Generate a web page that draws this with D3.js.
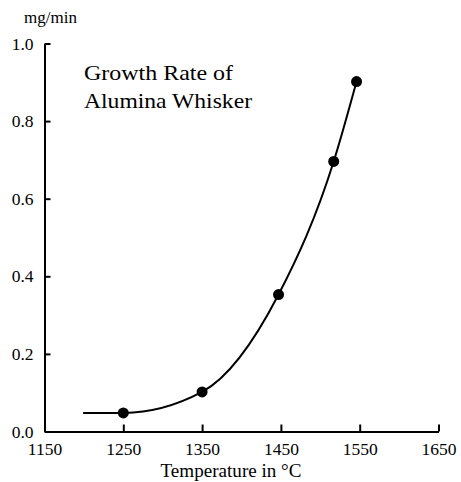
<!DOCTYPE html>
<html>
<head>
<meta charset="utf-8">
<script src="https://cdn.jsdelivr.net/npm/d3@7"></script>
<style>
  html, body { margin: 0; padding: 0; background: #fff; }
</style>
</head>
<body>
<div id="chart"></div>
<script>
// measured points (temperature in °C, growth rate in mg/min)
const temps = [1250, 1350, 1447, 1517, 1546];
const rates = [0.048, 0.102, 0.353, 0.696, 0.902];
// the drawn curve
const curveTemps = [1199, 1250, 1350, 1447, 1517, 1546];
const curveRates = [0.048, 0.048, 0.102, 0.353, 0.696, 0.902];
const xTicks = [1150, 1250, 1350, 1450, 1550, 1650];
const yTicks = [0.0, 0.2, 0.4, 0.6, 0.8, 1.0];

const FONT = "'Liberation Serif', 'Times New Roman', serif";
const W = 461, H = 482;
const margin = { top: 43.5, right: 22.5, bottom: 50, left: 44.5 };
const width = W - margin.left - margin.right;
const height = H - margin.top - margin.bottom - 0.5;

const svg = d3.select("#chart").append("svg")
  .attr("width", W)
  .attr("height", H);

const g = svg.append("g")
  .attr("transform", `translate(${margin.left},${margin.top})`);

const x = d3.scaleLinear().domain([1150, 1650]).range([0, width]);
const y = d3.scaleLinear().domain([0, 1]).range([height, 0]);

// axes, ticks point inward
const xAxis = g.append("g")
  .attr("transform", `translate(0,${height})`)
  .call(d3.axisBottom(x).tickValues(xTicks).tickFormat(d3.format("d"))
    .tickSize(-7).tickPadding(11).tickSizeOuter(0));
xAxis.select(".domain").attr("stroke-width", 2);
xAxis.selectAll(".tick line").attr("stroke-width", 2);
xAxis.selectAll(".tick text")
  .style("font-family", FONT)
  .style("font-size", "17.5px");

const yAxis = g.append("g")
  .call(d3.axisLeft(y).tickValues(yTicks).tickFormat(d3.format(".1f"))
    .tickSize(-6).tickPadding(11).tickSizeOuter(0));
yAxis.select(".domain").attr("stroke-width", 2);
yAxis.selectAll(".tick line").attr("stroke-width", 2);
yAxis.selectAll(".tick text")
  .style("font-family", FONT)
  .style("font-size", "17.5px");

// curve
const pts = curveTemps.map((t, i) => [t, curveRates[i]]);
g.append("path")
  .datum(pts)
  .attr("fill", "none")
  .attr("stroke", "#000")
  .attr("stroke-width", 2)
  .attr("d", d3.line().x(d => x(d[0])).y(d => y(d[1])).curve(d3.curveMonotoneX));

// dots
g.selectAll("circle.pt")
  .data(temps.map((t, i) => [t, rates[i]]))
  .join("circle")
  .attr("class", "pt")
  .attr("cx", d => x(d[0]))
  .attr("cy", d => y(d[1]))
  .attr("r", 5.5)
  .attr("fill", "#000");

// labels
svg.append("text")
  .style("font-family", FONT)
  .attr("x", 24).attr("y", 23)
  .attr("font-size", 17)
  .text("mg/min");

svg.append("text")
  .style("font-family", FONT)
  .attr("x", 231).attr("y", 476.5)
  .attr("text-anchor", "middle")
  .attr("font-size", 18.5)
  .attr("textLength", 141)
  .attr("lengthAdjust", "spacingAndGlyphs")
  .text("Temperature in °C");

const title = svg.append("text").style("font-family", FONT).attr("font-size", 21);
title.append("tspan").attr("x", 84).attr("y", 80).attr("textLength", 149)
  .attr("lengthAdjust", "spacingAndGlyphs").text("Growth Rate of");
title.append("tspan").attr("x", 84).attr("y", 108).attr("textLength", 168)
  .attr("lengthAdjust", "spacingAndGlyphs").text("Alumina Whisker");
</script>
</body>
</html>
